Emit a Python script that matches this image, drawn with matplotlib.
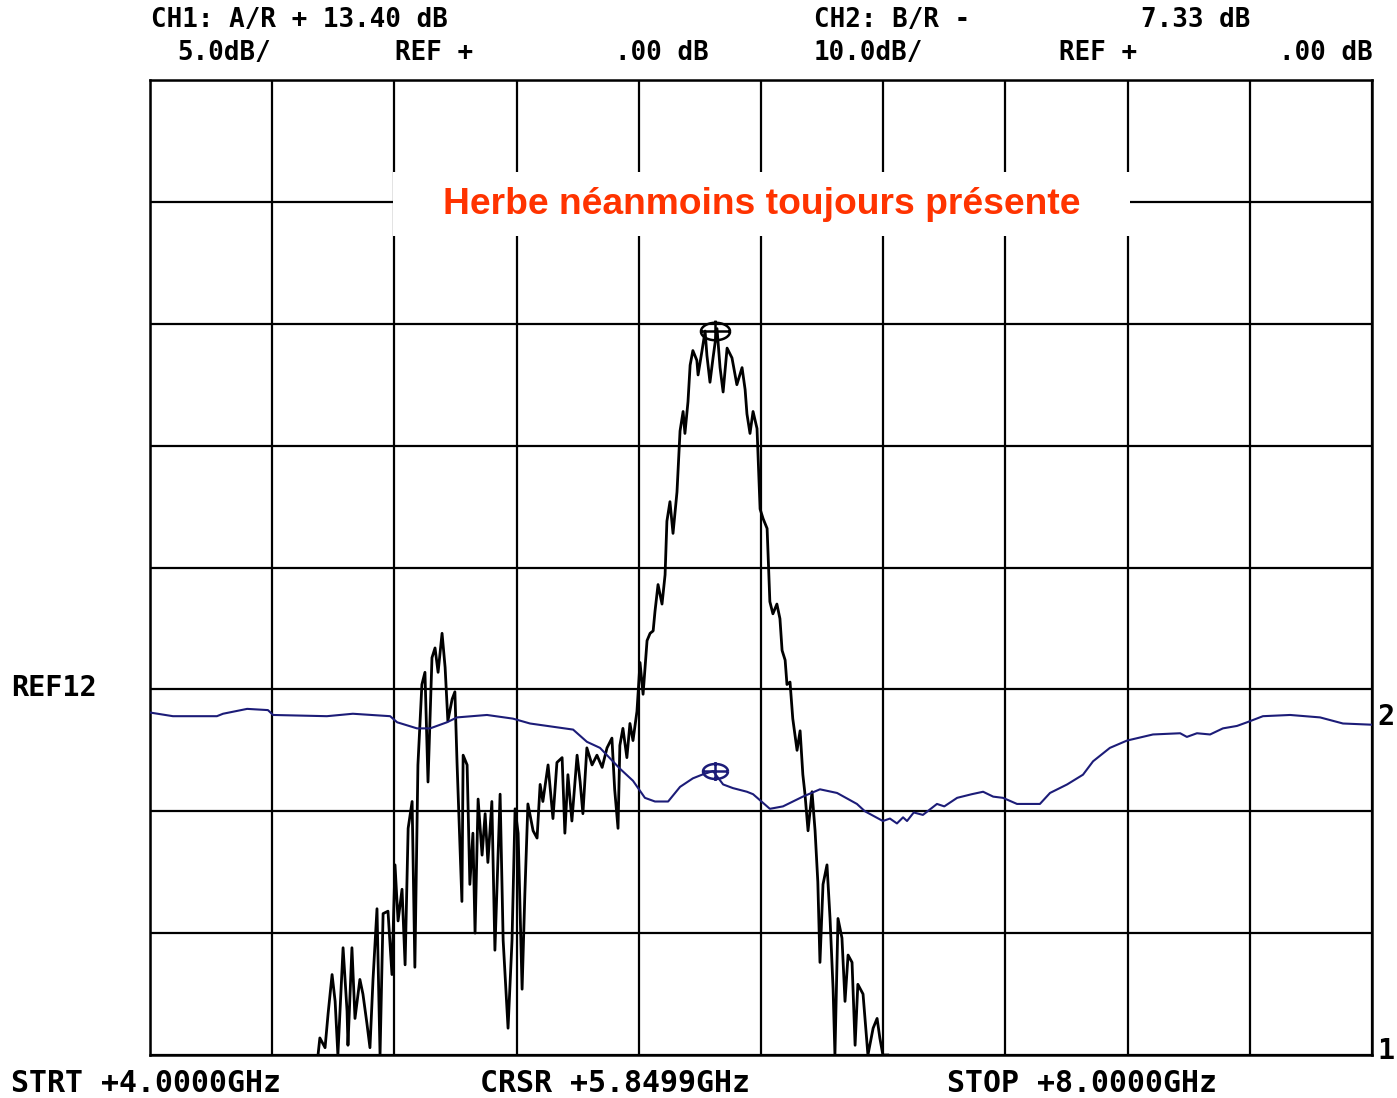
import numpy as np
import matplotlib
matplotlib.use("Agg")
import matplotlib.pyplot as plt
from matplotlib.path import Path
from matplotlib.patches import Rectangle

# CH1: A/R, 5 dB/div, REF 0 dB at the reference line (3rd division from bottom)
ch1_freq_ghz = [4.550, 4.556, 4.573, 4.583, 4.596, 4.606, 4.615, 4.632, 4.645, 4.648,
                4.661, 4.671, 4.687, 4.697, 4.710, 4.720, 4.730, 4.743, 4.753, 4.763,
                4.779, 4.792, 4.802, 4.812, 4.825, 4.835, 4.845, 4.858, 4.867, 4.877,
                4.890, 4.900, 4.910, 4.923, 4.933, 4.943, 4.956, 4.966, 4.975, 4.989,
                4.998, 5.005, 5.021, 5.025, 5.038, 5.047, 5.057, 5.064, 5.074, 5.087,
                5.097, 5.106, 5.119, 5.129, 5.146, 5.156, 5.172, 5.185, 5.195, 5.205,
                5.218, 5.227, 5.237, 5.254, 5.267, 5.277, 5.286, 5.303, 5.319, 5.332,
                5.349, 5.358, 5.368, 5.381, 5.398, 5.408, 5.417, 5.430, 5.447, 5.463,
                5.480, 5.496, 5.512, 5.521, 5.532, 5.538, 5.548, 5.561, 5.571, 5.581,
                5.594, 5.604, 5.614, 5.627, 5.637, 5.647, 5.653, 5.663, 5.676, 5.686,
                5.692, 5.702, 5.712, 5.725, 5.735, 5.745, 5.751, 5.761, 5.768, 5.777,
                5.790, 5.794, 5.807, 5.817, 5.823, 5.833, 5.843, 5.856, 5.866, 5.876,
                5.889, 5.905, 5.921, 5.938, 5.948, 5.954, 5.964, 5.974, 5.987, 5.997,
                6.007, 6.020, 6.029, 6.039, 6.052, 6.062, 6.069, 6.079, 6.085, 6.095,
                6.104, 6.118, 6.128, 6.137, 6.144, 6.154, 6.167, 6.177, 6.186, 6.193,
                6.203, 6.216, 6.226, 6.236, 6.242, 6.252, 6.265, 6.275, 6.285, 6.298,
                6.308, 6.317, 6.334, 6.350, 6.367, 6.380, 6.389, 6.399, 6.415]
ch1_db = [-15.0, -14.3, -14.7, -13.3, -11.7, -12.8, -15.0, -10.6, -13.2, -14.6,
          -10.6, -13.5, -11.9, -12.5, -13.7, -14.7, -11.9, -9.0, -15.0, -9.2,
          -9.1, -11.7, -7.2, -9.5, -8.2, -11.3, -5.7, -4.6, -11.4, -3.1,
          0.2, 0.7, -3.8, 1.3, 1.7, 0.7, 2.3, 0.9, -1.3, -0.4,
          -0.1, -3.0, -8.7, -2.7, -3.1, -8.0, -5.9, -10.0, -4.5, -6.8,
          -5.1, -7.1, -4.6, -10.7, -4.3, -10.3, -13.9, -10.3, -4.9, -5.9,
          -12.3, -8.4, -4.7, -5.8, -6.1, -3.9, -4.6, -3.1, -5.3, -3.0,
          -2.8, -5.9, -3.5, -5.4, -2.7, -3.8, -5.1, -2.4, -3.1, -2.7,
          -3.2, -2.4, -2.0, -4.1, -5.7, -2.3, -1.6, -2.8, -1.4, -2.1,
          -0.9, 1.1, -0.2, 2.0, 2.3, 2.4, 3.2, 4.3, 3.5, 4.7,
          6.9, 7.7, 6.4, 8.1, 10.6, 11.4, 10.5, 11.8, 13.3, 13.9,
          13.5, 12.9, 13.9, 14.7, 13.7, 12.6, 13.6, 14.8, 13.2, 12.2,
          14.0, 13.6, 12.5, 13.2, 12.3, 11.3, 10.5, 11.4, 10.7, 7.4,
          7.0, 6.6, 3.6, 3.1, 3.5, 2.9, 1.6, 1.2, 0.2, 0.3,
          -1.2, -2.5, -1.7, -3.5, -4.3, -5.8, -4.2, -5.8, -7.9, -11.2,
          -8.0, -7.2, -9.4, -12.3, -15.0, -9.4, -10.2, -12.8, -10.9, -11.2,
          -14.6, -12.1, -12.5, -15.0, -13.9, -13.5, -14.3, -15.0, -15.0]

# CH2: B/R, 10 dB/div, REF 0 dB at the same reference line
ch2_freq_ghz = [4.000, 4.075, 4.219, 4.239, 4.318, 4.386, 4.403, 4.579, 4.664, 4.786,
                4.809, 4.874, 4.917, 4.972, 5.005, 5.103, 5.188, 5.244, 5.385, 5.430,
                5.473, 5.538, 5.581, 5.620, 5.653, 5.696, 5.735, 5.777, 5.807, 5.843,
                5.876, 5.908, 5.954, 5.974, 6.029, 6.072, 6.137, 6.193, 6.249, 6.314,
                6.340, 6.399, 6.422, 6.445, 6.465, 6.478, 6.500, 6.530, 6.576, 6.600,
                6.642, 6.690, 6.727, 6.760, 6.792, 6.838, 6.913, 6.946, 7.002, 7.054,
                7.087, 7.142, 7.198, 7.283, 7.372, 7.394, 7.427, 7.470, 7.512, 7.558,
                7.591, 7.643, 7.732, 7.830, 7.905, 8.000]
ch2_db = [-1.9, -2.2, -2.2, -2.0, -1.6, -1.7, -2.1, -2.2, -2.0, -2.2,
          -2.7, -3.2, -3.2, -2.7, -2.3, -2.1, -2.4, -2.8, -3.3, -4.3,
          -4.8, -6.5, -7.5, -8.9, -9.2, -9.2, -8.0, -7.3, -7.0, -6.7,
          -7.8, -8.1, -8.4, -8.6, -9.8, -9.6, -8.8, -8.2, -8.5, -9.4,
          -10.0, -10.8, -10.6, -11.0, -10.5, -10.8, -10.1, -10.3, -9.4, -9.6,
          -8.9, -8.6, -8.4, -8.8, -8.9, -9.4, -9.4, -8.5, -7.8, -7.0,
          -5.9, -4.8, -4.2, -3.7, -3.6, -3.9, -3.6, -3.7, -3.2, -3.0,
          -2.7, -2.2, -2.1, -2.3, -2.8, -2.9]

cursor_freq_ghz = 5.8499
ch1_marker_db = 14.7
ch2_marker_db = -6.7

header_left = ["CH1: A/R + 13.40 dB", "5.0dB/", "REF +", ".00 dB"]
header_right = ["CH2: B/R -", "7.33 dB", "10.0dB/", "REF +", ".00 dB"]
footer = ["STRT +4.0000GHz", "CRSR +5.8499GHz", "STOP +8.0000GHz"]
title = "Herbe néanmoins toujours présente"

# ---------------- figure ----------------
W, H = 1397, 1098
fig = plt.figure(figsize=(W / 100, H / 100), dpi=100)
fig.patch.set_facecolor("white")

def fx(px):
    return px / W

def fy(py):
    return 1 - py / H

ax = fig.add_axes([fx(150), fy(1055), 1222 / W, 975 / H])
ax.set_xlim(4, 8)
ax.set_ylim(-15, 25)
ax.set_xticks(np.linspace(4, 8, 11))
ax.set_yticks(np.arange(-15, 26, 5))
ax.grid(True, color="black", lw=1.6)
ax.tick_params(length=0, labelbottom=False, labelleft=False)
for s in ax.spines.values():
    s.set_color("black")
    s.set_linewidth(1.8)

ax2 = ax.twinx()
ax2.set_ylim(-30, 50)
ax2.set_yticks([])
for s in ax2.spines.values():
    s.set_visible(False)

# traces
blue = "#1c1c78"
ax2.plot(ch2_freq_ghz, ch2_db, color=blue, lw=1.5, zorder=4)
ax.plot(ch1_freq_ghz, ch1_db, color="black", lw=2.0, zorder=4, clip_on=True)

# cursor markers: ellipse with a cross
t = np.linspace(0, 2 * np.pi, 40)
verts = list(zip(np.cos(t), 0.6 * np.sin(t)))
codes = [Path.MOVETO] + [Path.LINETO] * (len(verts) - 1)
verts += [(-1.0, 0.0), (1.0, 0.0), (0.0, -0.75), (0.0, 0.75)]
codes += [Path.MOVETO, Path.LINETO, Path.MOVETO, Path.LINETO]
cross_path = Path(verts, codes)
ax.plot([cursor_freq_ghz], [ch1_marker_db], marker=cross_path, ms=21, mfc="none",
        mec="black", mew=1.8, ls="none", zorder=6)
ax2.plot([cursor_freq_ghz], [ch2_marker_db], marker=cross_path, ms=18, mfc="none",
         mec=blue, mew=1.8, ls="none", zorder=6)

# title box
ax.add_patch(Rectangle(((393 - 150) / 1222, (1055 - 236) / 975), (1130 - 393) / 1222, 64 / 975,
                       transform=ax.transAxes, facecolor="white", edgecolor="none",
                       zorder=5))
ax.text((762 - 150) / 1222, (1055 - 204) / 975, title, transform=ax.transAxes,
        ha="center", va="center", color="#ff3300", fontsize=26.8, fontweight="bold",
        family="Liberation Sans", zorder=7)

# screen annotations
mono = dict(family="DejaVu Sans Mono", fontweight="bold", color="black", fontsize=18.6)
fig.text(fx(151), fy(20), header_left[0], ha="left", va="center", **mono)
fig.text(fx(177), fy(53), header_left[1], ha="left", va="center", **mono)
fig.text(fx(395), fy(53), header_left[2], ha="left", va="center", **mono)
fig.text(fx(709), fy(53), header_left[3], ha="right", va="center", **mono)
fig.text(fx(814), fy(20), header_right[0], ha="left", va="center", **mono)
fig.text(fx(1250), fy(20), header_right[1], ha="right", va="center", **mono)
fig.text(fx(814), fy(53), header_right[2], ha="left", va="center", **mono)
fig.text(fx(1059), fy(53), header_right[3], ha="left", va="center", **mono)
fig.text(fx(1373), fy(53), header_right[4], ha="right", va="center", **mono)

side = dict(mono, fontsize=20.5)
fig.text(fx(11), fy(688), "REF12", ha="left", va="center", **side)
fig.text(fx(1377), fy(717), "2", ha="left", va="center", **side)
fig.text(fx(1377), fy(1051), "1", ha="left", va="center", **side)

foot = dict(mono, fontsize=21.5)
fig.text(fx(11), fy(1083), footer[0], ha="left", va="center", **foot)
fig.text(fx(480), fy(1083), footer[1], ha="left", va="center", **foot)
fig.text(fx(947), fy(1083), footer[2], ha="left", va="center", **foot)

fig.savefig("out.png", dpi=100, facecolor="white")
